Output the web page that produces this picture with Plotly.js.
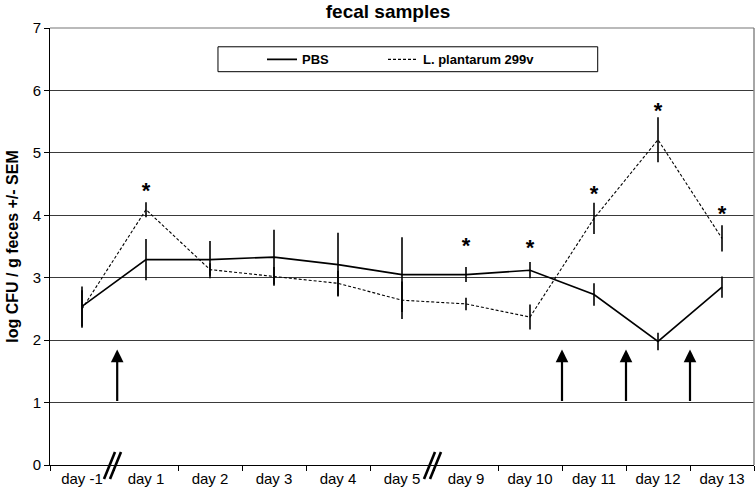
<!DOCTYPE html>
<html>
<head>
<meta charset="utf-8">
<script src="https://cdn.plot.ly/plotly-3.0.1.min.js"></script>
<style>html,body{margin:0;padding:0;background:#fff}#chart{width:755px;height:494px}</style>
</head>
<body>
<div id="chart"></div>
<script>
// ---- data ----
const days = ["day -1","day 1","day 2","day 3","day 4","day 5","day 9","day 10","day 11","day 12","day 13"];
const pbsMean = [2.54, 3.29, 3.29, 3.33, 3.21, 3.05, 3.05, 3.12, 2.73, 1.98, 2.85];
const pbsSem  = [0.32, 0.33, 0.30, 0.44, 0.51, 0.60, 0.12, 0.13, 0.18, 0.14, 0.17];
const lpMean  = [2.50, 4.09, 3.13, 3.02, 2.91, 2.64, 2.58, 2.37, 3.95, 5.21, 3.63];
const lpSem   = [0.30, 0.12, 0.10, 0.15, 0.20, 0.30, 0.10, 0.20, 0.25, 0.36, 0.21];
const starDays = ["day 1","day 9","day 10","day 11","day 12","day 13"];
const starLevel = [4.36, 3.48, 3.46, 4.32, 5.65, 4.00];
const arrowPos = [0.55, 7.5, 8.5, 9.5];   // category-index positions of dosing arrows
const arrowFrom = 1.0, arrowTo = 1.85;
const breakPos = [0.5, 5.5];              // axis breaks (category index)

const font = "Liberation Sans, Arial, sans-serif";

const traces = [
  {
    x: days, y: pbsMean, name: "PBS", type: "scatter", mode: "lines", legend: "legend",
    line: {color: "#000", width: 1.6},
    error_y: {type: "data", array: pbsSem, visible: true, color: "#000", thickness: 1.6, width: 0}
  },
  {
    x: days, y: lpMean, name: "L. plantarum 299v", type: "scatter", mode: "lines", legend: "legend2",
    line: {color: "#000", width: 1.1, dash: "3px,2px"},
    error_y: {type: "data", array: lpSem, visible: true, color: "#000", thickness: 1.6, width: 0}
  },
  {
    x: starDays, y: starLevel, type: "scatter", mode: "text", text: starDays.map(() => "*"),
    textposition: "middle center", showlegend: false, hoverinfo: "skip",
    textfont: {family: font, size: 22, color: "#000", weight: "bold"}
  }
];

const annotations = arrowPos.map(p => ({
  x: p, y: arrowTo, ax: p, ay: arrowFrom, xref: "x", yref: "y", axref: "x", ayref: "y",
  showarrow: true, arrowhead: 2, arrowsize: 1.15, arrowwidth: 2.2, arrowcolor: "#000", text: ""
}));

const shapes = [
  {type: "rect", xref: "paper", yref: "paper", x0: 0.2386, x1: 0.778, y0: 0.900, y1: 0.957,
   line: {color: "#000", width: 1}, fillcolor: "rgba(0,0,0,0)"}
];
breakPos.forEach(b => {
  const xp = (b + 0.5) / days.length;
  [[-10, 1], [-4, 7]].forEach(([a, c]) => shapes.push({
    type: "line", xref: "paper", yref: "paper", xsizemode: "pixel", ysizemode: "pixel",
    xanchor: xp, yanchor: 0, x0: a, x1: c, y0: -14, y1: 13,
    line: {color: "#000", width: 2.6}
  }));
});
shapes.push(
  {type: "line", xref: "paper", yref: "paper", x0: 1, x1: 1, y0: 0, y1: 1, line: {color: "#888", width: 1.5}},
  {type: "line", xref: "paper", yref: "paper", x0: 0, x1: 1, y0: 1, y1: 1, line: {color: "#777", width: 1.2}}
);

const legFont = {family: font, size: 13, weight: "bold", color: "#000"};
const layout = {
  width: 755, height: 494,
  margin: {l: 50, r: 1, t: 28, b: 29},
  paper_bgcolor: "#fff", plot_bgcolor: "#fff",
  font: {family: font, color: "#000", size: 13},
  title: {text: "fecal samples", x: 0.514, xref: "container", y: 0.978, yref: "container",
          yanchor: "middle", xanchor: "center",
          font: {family: font, size: 19, weight: "bold", color: "#000"}},
  showlegend: true,
  legend: {orientation: "h", x: (262 - 50) / 704, xanchor: "left", y: 0.928, yanchor: "middle",
           bgcolor: "rgba(0,0,0,0)", borderwidth: 0, font: legFont},
  legend2: {orientation: "h", x: (383 - 50) / 704, xanchor: "left", y: 0.928, yanchor: "middle",
           bgcolor: "rgba(0,0,0,0)", borderwidth: 0, font: legFont},
  xaxis: {
    type: "category", range: [-0.5, 10.5], tickson: "boundaries", ticks: "outside",
    ticklen: 5, tickcolor: "#000", showline: true, linecolor: "#000", linewidth: 1,
    showgrid: false, zeroline: false, automargin: false, fixedrange: true,
    tickfont: {family: font, size: 15, color: "#000"}
  },
  yaxis: {
    range: [0, 7], dtick: 1, ticks: "outside", ticklen: 5, tickcolor: "#000",
    showline: true, linecolor: "#000", linewidth: 1, mirror: false,
    showgrid: true, gridcolor: "#3a3a3a", gridwidth: 1, zeroline: false, automargin: false,
    tickfont: {family: font, size: 15, color: "#000"},
    title: {text: "log CFU / g feces +/- SEM", standoff: 10,
            font: {family: font, size: 16, weight: "bold", color: "#000"}}
  },
  shapes: shapes,
  annotations: annotations
};

Plotly.newPlot("chart", traces, layout, {displayModeBar: false, staticPlot: true});
</script>
</body>
</html>
